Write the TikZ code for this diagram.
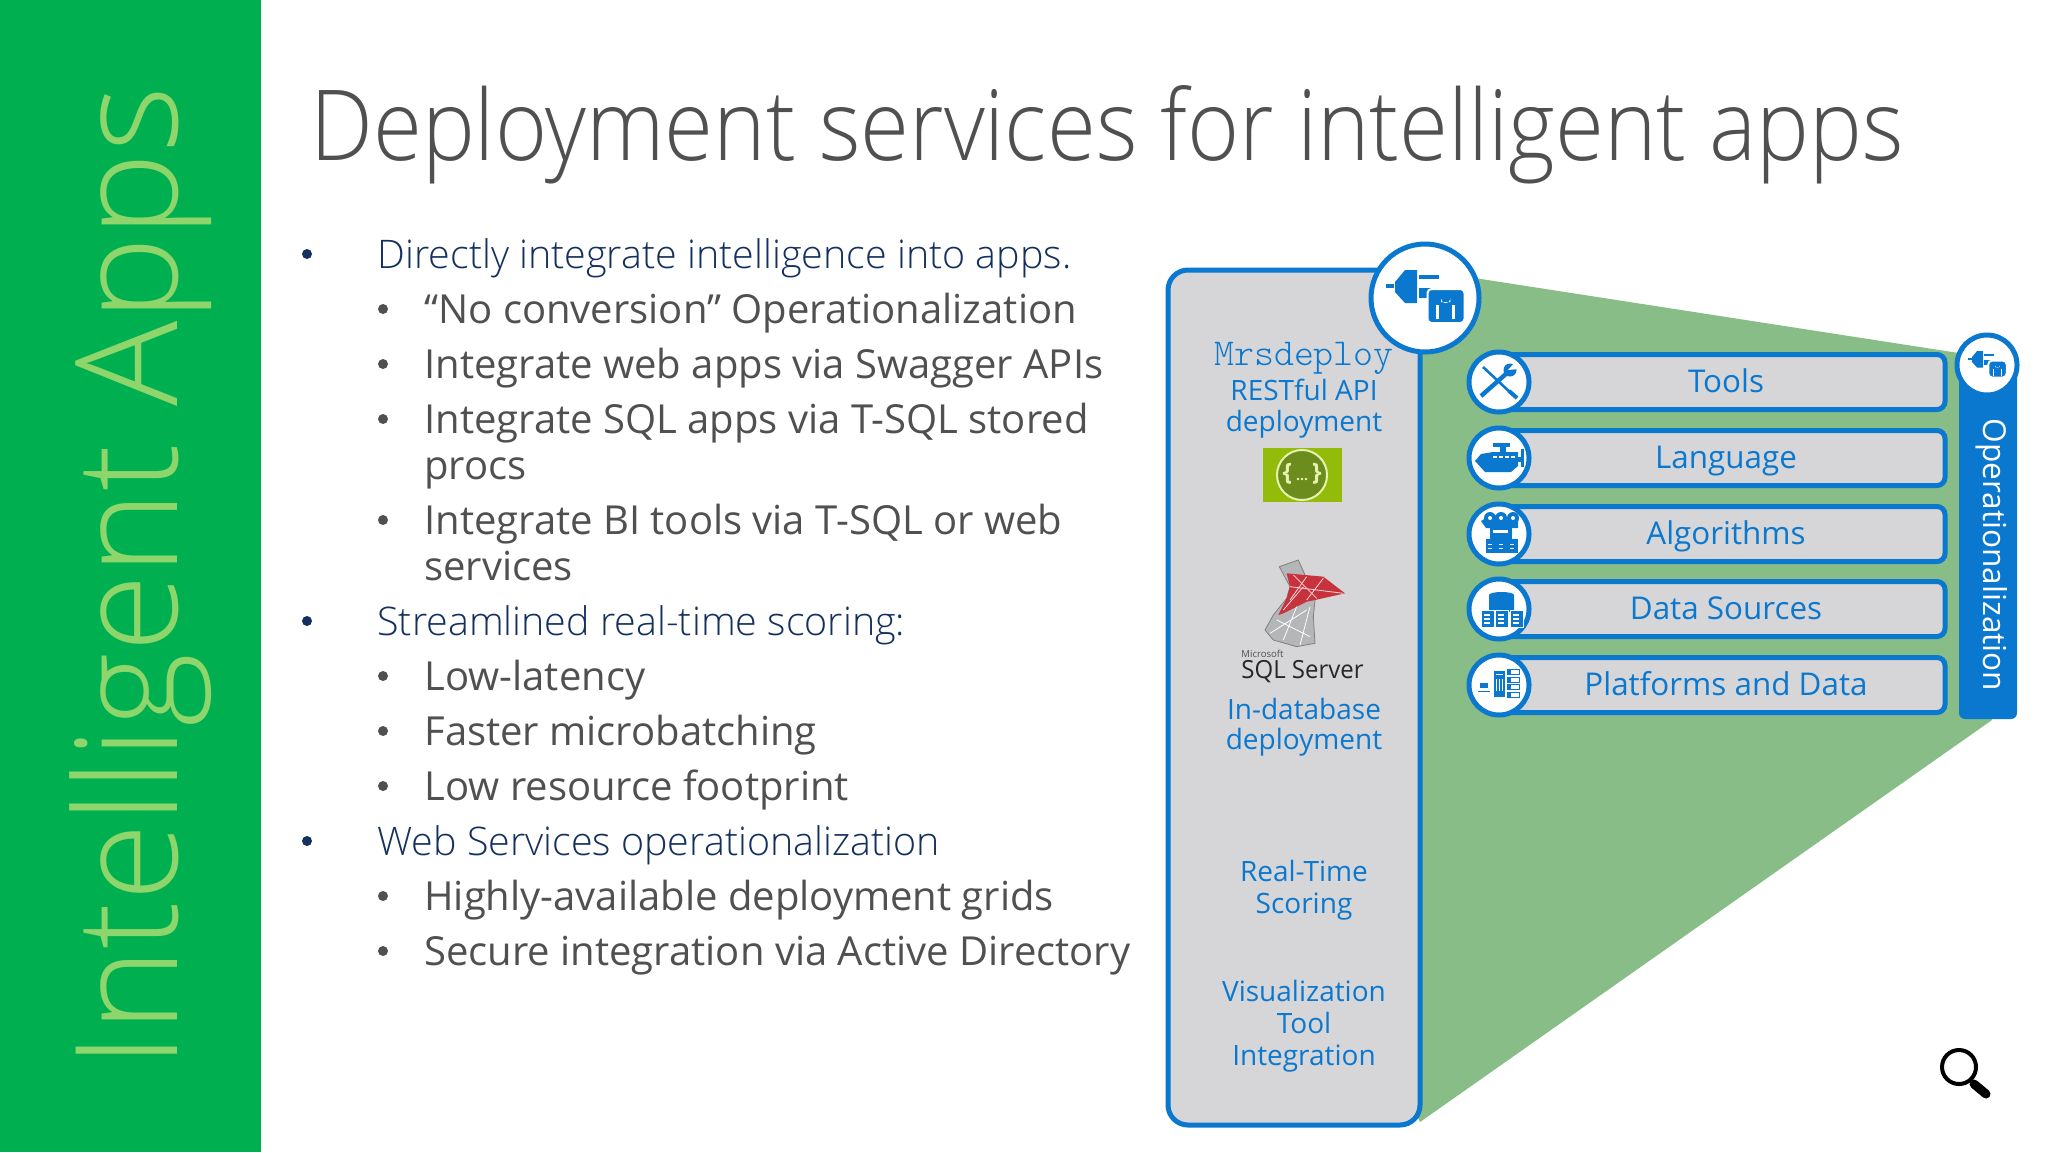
\documentclass[tikz,border=0pt]{standalone}
\usepackage{fontspec}
\setmainfont{Open Sans}
\newfontfamily\lightfont{Open Sans Light}
\newfontfamily\mrsfont{Latin Modern Mono Light}
\usetikzlibrary{positioning}
\definecolor{sidegreen}{HTML}{00B050}
\definecolor{sidetext}{HTML}{8ED66C}
\definecolor{titlegray}{HTML}{505050}
\definecolor{navytext}{HTML}{14305E}
\definecolor{subtext}{HTML}{505050}
\definecolor{msblue}{HTML}{0B78D0}
\definecolor{panelgray}{HTML}{D6D6D8}
\definecolor{wedgegreen}{HTML}{89BD87}
\definecolor{swaglime}{HTML}{93BC0A}
\definecolor{swagdark}{HTML}{6C8C1E}
\definecolor{swaglight}{HTML}{E6F2AE}
\definecolor{sqlred}{HTML}{C8323C}
\definecolor{sqlgray}{HTML}{B4B6B8}
\newcommand{\fsize}[1]{\fontsize{#1}{#1}\selectfont}
\tikzset{
	mainbullet/.style={anchor=base west,text=navytext,inner sep=0pt,font=\lightfont\fsize{19.7}},
	subbullet/.style={anchor=base west,text=subtext,inner sep=0pt,font=\fsize{20}},
	dot/.style={fill=#1,circle,inner sep=0pt,minimum size=5pt},
	paneltext/.style={anchor=base,text=msblue,inner sep=0pt,font=\fsize{14}},
	rowtext/.style={anchor=base,text=msblue,inner sep=0pt,font=\fsize{15.7}},
	rowbar/.style={draw=msblue,fill=panelgray,line width=2.5pt,rounded corners=4pt},
	badge/.style={draw=msblue,fill=white,line width=2.5pt,circle,inner sep=0pt},
	plugicon/.pic={
		\fill[msblue] (-39,-14) rectangle (-31,-10);
		\fill[msblue] (-30,-16) -- (-20,-28) -- (-8,-28) -- (-8,5) -- (-20,5) -- (-30,-6) -- cycle;
		\fill[msblue] (-6,-23) rectangle (14,-19);
		\fill[msblue] (-6,-10) rectangle (10,0);
		\fill[white] (5,-5) circle (2.5);
		\fill[msblue,draw=white,line width=1pt,rounded corners=2pt] (2.5,-9) rectangle (39.5,25);
		\fill[white] (16,4) -- (16,0.5) arc (180:0:4.7) -- (25.4,4) -- cycle;
		\fill[white] (11,7) rectangle (14,21);
		\fill[white] (27,7) rectangle (30,21);
	},
	toolicon/.pic={
		\draw[msblue,line width=1.3pt] (-16,-15) -- (14,13);
		\draw[msblue,line width=2pt] (10,9) -- (18,16);
		\draw[msblue,line width=2.2pt] (-18,14) -- (8,-9);
		\fill[msblue] (11,-12) circle (6.5);
		\fill[white] (9,-12) -- (17,-21) -- (20,-13) -- cycle;
	},
	engineicon/.pic={
		\fill[msblue] (-24,3) -- (-18,-4) -- (-6,-6) -- (19,-6) -- (19,8) -- (12,14) -- (-14,14) -- cycle;
		\fill[msblue] (-6,-15) rectangle (11,-11);
		\fill[msblue] (1,-11) rectangle (7,-6);
		\fill[msblue] (19,-1) rectangle (23,4);
		\fill[msblue] (22,-9) rectangle (25,9);
		\foreach \ex in {-6,0,6,12}
			\fill[white] (\ex,-2) rectangle ++(3.5,1.6);
	},
	algoicon/.pic={
		\fill[msblue] (-9,-16) circle (6) (2,-16) circle (6) (14,-16) circle (6);
		\fill[msblue] (-18,-13) -- (-13,-16) -- (19,-14) -- (19,-6) -- (-13,-6) -- cycle;
		\foreach \ex in {-9,2,14}
			\fill[white] (\ex,-16) circle (2);
		\fill[msblue] (-9,-6) rectangle (13,5);
		\fill[white] (-6,-4) rectangle (9,-1);
		\fill[msblue] (-13,5) rectangle (19,19);
		\foreach \ex in {-9,2,13}{
			\fill[white] (\ex-2,10) rectangle ++(4,1.2);
			\fill[white] (\ex-2,14) rectangle ++(4,1.2);
		}
	},
	dataicon/.pic={
		\fill[msblue] (-10,-14) arc (180:360:12.5 and 3) -- (15,3) -- (-10,3) -- cycle;
		\fill[msblue] (-10,-14) arc (180:0:12.5 and 3);
		\foreach \ex in {-18,-4,11}{
			\fill[msblue,draw=white,line width=.5pt] (\ex,1) rectangle ++(13,17);
			\fill[white] (\ex+3,5) rectangle ++(6,1.6);
			\fill[white] (\ex+3,9) rectangle ++(6,1.6);
			\fill[white] (\ex+3,13) rectangle ++(6,1.6);
		}
	},
	platformicon/.pic={
		\fill[msblue] (-19,-2) rectangle (-11,3);
		\fill[msblue] (-21,6) rectangle (-9,7);
		\fill[msblue] (-5,-14) rectangle (6,12);
		\fill[white] (-3,-11) rectangle (4,-10);
		\foreach \ex in {-3,0,3}
			\fill[white] (\ex-.5,-6) rectangle (\ex+.5,6);
		\foreach \ey in {-16,-8,-1,7}{
			\draw[msblue,line width=.5pt] (8,\ey) rectangle (20,\ey+5);
			\fill[msblue] (8,\ey) rectangle (12,\ey+5);
		}
	}
}
\begin{document}
\begin{tikzpicture}[x=0.5pt,y=-0.5pt]
	\useasboundingbox (0,0) rectangle (2048,1152);
	\fill[white] (0,0) rectangle (2048,1152);
	% side band
	\fill[sidegreen] (0,0) rectangle (261,1152);
	\node[rotate=90,anchor=base west,inner sep=0pt,text=sidetext,font=\lightfont\fsize{71}] (band) at (177,1069) {Intelligent Apps};
	\node[anchor=base west,inner sep=0pt,xscale=.908,text=titlegray,font=\lightfont\fsize{49}] (title) at (310,160) {Deployment services for intelligent apps};
	% bullets
	\foreach \ty/\txt in {268/Directly integrate intelligence into apps.,635/Streamlined real-time scoring:,855/Web Services operationalization}{
		\node[dot=navytext] (m\ty) at (307,\ty-14) {};
		\node[mainbullet] (t\ty) at (377,\ty) {\txt};
	}
	\foreach \ty/\txt in {323/“No conversion” Operationalization,378/Integrate web apps via Swagger APIs,433/Integrate SQL apps via T-SQL stored,534/Integrate BI tools via T-SQL or web,690/Low-latency,745/Faster microbatching,800/Low resource footprint,910/Highly-available deployment grids,965/Secure integration via Active Directory}{
		\node[dot=subtext] (s\ty) at (383,\ty-14) {};
		\node[subbullet] (t\ty) at (424,\ty) {\txt};
	}
	\node[subbullet] (procs) at (424,479) {procs};
	\node[subbullet] (services) at (424,580) {services};
	% wedge
	\fill[wedgegreen] (1410,268) -- (1965,354) -- (1992,720) -- (1420,1122) -- (1410,1100) -- cycle;
	% panel
	\draw[draw=msblue,fill=panelgray,line width=2.5pt,rounded corners=10pt] (1168,270) rectangle (1420,1125);
	\node[badge,minimum size=54pt] (bigbadge) at (1425,298) {};
	\pic at (1425,298) {plugicon};
	\node[anchor=base,inner sep=0pt,text=msblue,font=\mrsfont\fsize{19}] (mrs) at (1304,365) {Mrsdeploy};
	\node[paneltext] (rest) at (1304,400) {RESTful API};
	\node[paneltext] (dep) at (1304,431) {deployment};
	% swagger
	\fill[swaglime] (1263,448) rectangle (1342,502);
	\fill[swagdark,draw=swaglight,line width=1pt] (1302,475) circle (25);
	\node[inner sep=0pt,text=swaglight,font=\bfseries\fsize{12}] (swag) at (1302,474) {\{\,\fsize{7}...\fsize{12}\,\}};
	% sql logo
	\begin{scope}[shift={(1150,530)},scale=.3333]
		\fill[sqlgray,draw=gray,line width=.4pt] (388,110) -- (445,90) -- (465,135) -- (495,210) -- (490,260) -- (495,340) -- (440,350) -- (370,330) -- (345,300) -- (370,255) -- (410,205) -- (420,170) -- cycle;
		\fill[sqlred] (410,130) -- (465,135) -- (520,140) -- (585,190) -- (495,210) -- (470,215) -- (400,250) -- (385,255) -- (410,205) -- (420,170) -- cycle;
		\draw[white!80!sqlred,line width=.4pt] (430,135) -- (500,205) (470,140) -- (420,210) (520,145) -- (470,210) (420,170) -- (580,190) (400,240) -- (460,170);
		\draw[white,line width=.4pt] (380,270) -- (480,320) (440,230) -- (400,330) (480,230) -- (450,345) (360,310) -- (470,240);
	\end{scope}
	\node[anchor=base west,inner sep=0pt,text=titlegray,font=\fsize{4.8}] (ms) at (1241,657) {Microsoft};
	\node[anchor=base west,inner sep=0pt,xscale=.96,text=black!85,font=\fsize{12.5}] (sql) at (1241,678) {SQL Server};
	\node[paneltext] (indb) at (1304,719) {In-database};
	\node[paneltext] (indb2) at (1304,749) {deployment};
	\node[paneltext] (rt) at (1304,881) {Real-Time};
	\node[paneltext] (rt2) at (1304,913) {Scoring};
	\node[paneltext] (vi) at (1304,1001) {Visualization};
	\node[paneltext] (vi2) at (1304,1033) {Tool};
	\node[paneltext] (vi3) at (1304,1065) {Integration};
	% operationalization bar
	\fill[msblue,rounded corners=3pt] (1959,365) rectangle (2017,719);
	\node[badge,minimum size=30pt] (smallbadge) at (1987,365) {};
	\pic[scale=.5] at (1987,365) {plugicon};
	\node[rotate=-90,anchor=base,inner sep=0pt,text=white,font=\fsize{15.8}] (ops) at (1983,555) {Operationalization};
	% rows
	\foreach \ry/\rname/\ricon in {382/Tools/toolicon,458/Language/engineicon,534/Algorithms/algoicon,609/Data Sources/dataicon,685/Platforms and Data/platformicon}{
		\draw[rowbar] (1490,\ry-27.5) rectangle (1945,\ry+27.5);
		\node[rowtext] (r\ry) at (1726,\ry+10) {\rname};
		\node[badge,minimum size=30pt] (c\ry) at (1499,\ry) {};
		\pic at (1499,\ry) {\ricon};
	}
	% magnifier
	\draw[black,line width=2pt] (1959,1067) circle (17);
	\draw[black,line width=4.5pt,line cap=round] (1974,1084) -- (1986,1094);
\end{tikzpicture}
\end{document}
